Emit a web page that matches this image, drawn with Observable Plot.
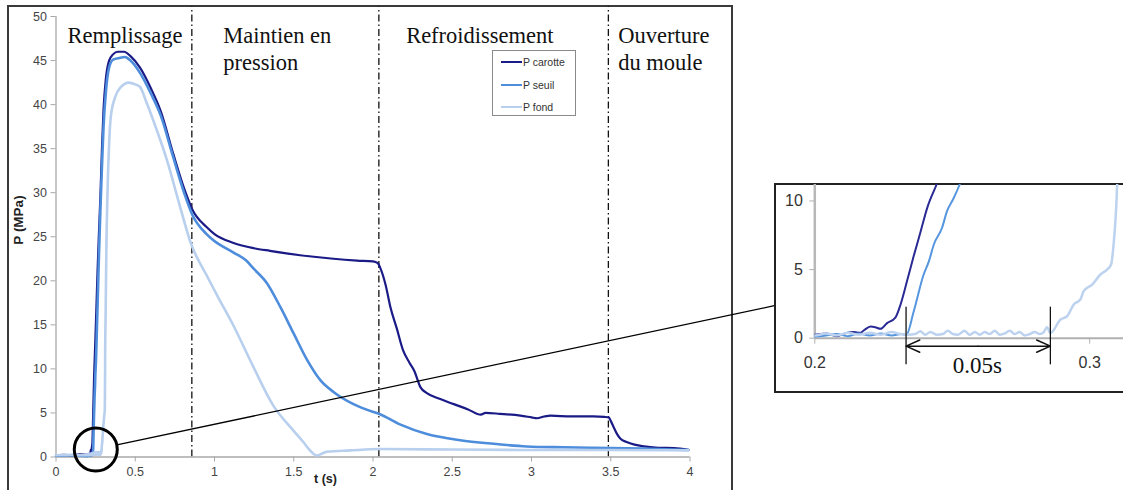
<!DOCTYPE html>
<html>
<head>
<meta charset="utf-8">
<script src="https://cdn.jsdelivr.net/npm/d3@7"></script>
<script src="https://cdn.jsdelivr.net/npm/@observablehq/plot@0.6"></script>
<style>
  html, body { margin: 0; padding: 0; background: #fff; }
  #stage { position: relative; width: 1123px; height: 490px; overflow: hidden; background: #fff; }
  #frame { position: absolute; left: 7px; top: 5px; width: 726px; height: 500px; border: 2px solid #3a3a3a; box-sizing: border-box; }
  #main { position: absolute; left: 0; top: 0; }
  #legend { position: absolute; left: 492px; top: 50px; width: 84px; height: 66px; border: 1px solid #8a8a8a; box-sizing: border-box; background: #fff;
            font-family: "Liberation Sans", Arial, sans-serif; font-size: 10.5px; color: #333; }
  .item { position: absolute; left: 8px; height: 12px; display: flex; align-items: center; }
  .item span.sw { display: inline-block; width: 21px; height: 2px; margin-right: 1px; }
  #insetFrame { position: absolute; left: 774px; top: 183px; width: 360px; height: 210px; border: 2px solid #222; border-right: none; box-sizing: border-box; background: #fff; }
  #inset { position: absolute; left: 775px; top: 184px; }
</style>
</head>
<body>
<div id="stage">
  <div id="frame"></div>
  <div id="main"></div>
  <div id="legend"></div>
  <div id="insetFrame"></div>
  <div id="inset"></div>
</div>
<script>
// ---- data: [t (s), P (MPa)] ----
const seriesNames = ["P carotte", "P seuil", "P fond"];
const seriesColors = ["#1b1b87", "#4d8ddb", "#b8cfee"];

const carotte = [
  [0,0.2],[0.05,0.25],[0.1,0.2],[0.15,0.3],[0.2,0.25],[0.204,0.35],[0.208,0.15],[0.211,0.35],[0.2142,0.45],
  [0.2166,0.4],[0.218,0.6],[0.2203,0.85],[0.222,0.8],[0.2239,0.68],[0.2263,1.1],[0.2293,1.5],[0.2312,2.46],
  [0.2336,4.2],[0.236,6.0],[0.2384,7.7],[0.2409,9.5],[0.2443,11.2],[0.247,12.6],[0.255,17],[0.262,21],
  [0.27,25],[0.28,29.5],[0.29,35],[0.3,39.5],[0.315,43],[0.335,45],[0.36,45.7],[0.39,46.0],[0.43,46.0],
  [0.47,45.5],[0.53,44.2],[0.6,41.8],[0.66,39.3],[0.74,34.4],[0.81,30.4],[0.86,28.1],[0.95,26.1],[1.0,25.3],
  [1.12,24.3],[1.25,23.7],[1.35,23.4],[1.54,22.9],[1.75,22.5],[1.9,22.3],[2.0,22.2],[2.03,22.0],[2.045,21.5],
  [2.08,19.5],[2.11,17.0],[2.15,14.6],[2.19,12.1],[2.23,10.7],[2.26,9.8],[2.3,7.9],[2.34,7.25],[2.42,6.6],
  [2.51,6.0],[2.6,5.4],[2.68,4.8],[2.71,5.0],[2.8,4.9],[2.93,4.7],[3.0,4.5],[3.035,4.4],[3.08,4.6],[3.12,4.7],
  [3.25,4.6],[3.39,4.6],[3.46,4.55],[3.487,4.5],[3.5,4.1],[3.518,3.4],[3.54,2.6],[3.56,2.1],[3.6,1.7],
  [3.65,1.4],[3.71,1.2],[3.8,1.05],[3.9,1.0],[3.99,0.8]
];

const seuil = [
  [0,0.15],[0.1,0.2],[0.2,0.1],[0.204,0.2],[0.208,0.3],[0.212,0.15],[0.216,0.35],[0.22,0.2],[0.224,0.35],
  [0.228,0.2],[0.2315,0.3],[0.2333,0.25],[0.236,1.97],[0.2396,4.64],[0.2415,5.6],[0.2433,6.83],[0.2463,8.05],
  [0.2481,9.26],[0.2505,10.2],[0.2527,11.2],[0.258,14.5],[0.265,19],[0.272,23.5],[0.28,28],[0.29,33],
  [0.3,37.5],[0.315,41.5],[0.335,44.2],[0.36,45.1],[0.4,45.3],[0.435,45.4],[0.47,45.0],[0.53,43.6],
  [0.6,41.2],[0.66,38.8],[0.74,34.0],[0.81,29.9],[0.86,27.5],[0.95,25.3],[0.993,24.6],[1.12,23.2],
  [1.2,22.3],[1.246,21.4],[1.332,19.7],[1.416,17.0],[1.5,14.0],[1.585,11.0],[1.669,8.7],[1.753,7.36],
  [1.877,6.0],[2.003,5.1],[2.037,4.9],[2.17,3.7],[2.34,2.6],[2.55,1.9],[2.76,1.5],[2.97,1.2],[3.2,1.1],
  [3.39,1.05],[3.7,0.95],[3.99,0.8]
];

const fond = [
  [0,0.2],[0.1,0.25],[0.15,0.2],[0.2,0.2],[0.204,0.35],[0.208,0.2],[0.212,0.4],[0.216,0.25],[0.22,0.4],
  [0.224,0.25],[0.228,0.45],[0.231,0.3],[0.2336,0.25],[0.2365,0.3],[0.2384,0.5],[0.2402,0.25],[0.242,0.45],
  [0.2445,0.25],[0.2466,0.3],[0.2484,0.55],[0.2502,0.3],[0.2521,0.25],[0.2545,0.55],[0.2563,0.25],
  [0.2582,0.45],[0.26,0.25],[0.2618,0.45],[0.2636,0.3],[0.2655,0.55],[0.2673,0.25],[0.2691,0.35],
  [0.2709,0.55],[0.2727,0.3],[0.2745,0.45],[0.2763,0.2],[0.2782,0.3],[0.28,0.45],[0.2818,0.3],[0.2833,0.45],
  [0.2845,0.8],[0.2857,0.37],[0.2894,1.36],[0.2918,1.6],[0.2942,2.46],[0.2966,2.82],[0.2978,3.43],
  [0.3009,3.91],[0.3039,4.64],[0.3063,5.0],[0.3078,5.37],[0.3087,6.83],[0.3097,9.75],[0.31,11.2],
  [0.313,16],[0.318,24],[0.325,30],[0.335,35.5],[0.345,38.5],[0.372,40.8],[0.41,42],[0.46,42.5],[0.5,42.3],
  [0.53,42.0],[0.57,40.3],[0.614,38.2],[0.7,33.7],[0.783,28.4],[0.85,24.3],[0.951,20.6],[1.03,17.9],
  [1.12,14.9],[1.246,10.2],[1.372,5.8],[1.498,3.0],[1.56,1.7],[1.603,0.74],[1.646,0.17],[1.68,0.4],
  [1.709,0.6],[1.856,0.75],[2.045,0.9],[2.5,0.85],[3.0,0.8],[3.5,0.8],[3.99,0.75]
];

const xTicks = [0, 0.5, 1, 1.5, 2, 2.5, 3, 3.5, 4];
const yTicks = [0, 5, 10, 15, 20, 25, 30, 35, 40, 45, 50];
const phaseBounds = [0.857, 2.037, 3.485];
const phaseLabels = [
  {t: 0.073, p: 49.2, text: "Remplissage"},
  {t: 1.055, p: 49.2, text: "Maintien en\npression"},
  {t: 2.209, p: 49.2, text: "Refroidissement"},
  {t: 3.547, p: 49.2, text: "Ouverture\ndu moule"}
];
// zoom annotation (data units of the main chart)
const zoomCircle = [{t: 0.251, p: 0.85}];
const zoomLink = [{t1: 0.384, p1: 1.37, t2: 4.539, p2: 17.2}];

// inset
const insetXTicks = [0.2, 0.3];
const insetYTicks = [0, 5, 10];
const delayStart = 0.2332, delayEnd = 0.2857, delayLabel = "0.05s";

// ---- build tables ----
const toRows = (arr, name) => arr.map(([t, p]) => ({t, p, name}));
const rows = [toRows(carotte, seriesNames[0]), toRows(seuil, seriesNames[1]), toRows(fond, seriesNames[2])];
const fmt = d => `${d}`;
const sans = "'Liberation Sans', Arial, sans-serif";
const serif = "'Liberation Serif', 'Times New Roman', serif";

const main = Plot.plot({
  width: 1123, height: 490,
  marginLeft: 55.5, marginRight: 433.5, marginTop: 16, marginBottom: 33.5,
  x: {domain: [0, 4]},
  y: {domain: [0, 50]},
  style: {background: "transparent", overflow: "visible", fontFamily: sans},
  marks: [
    Plot.ruleX(phaseBounds, {y1: 0, y2: 51.1, stroke: "#111", strokeWidth: 1.3, strokeDasharray: "7,3,1.5,3"}),
    Plot.ruleY([0], {x1: 0, x2: 4, stroke: "#a8a8a8", strokeWidth: 1.3}),
    Plot.ruleX([0], {y1: 0, y2: 50, stroke: "#a8a8a8", strokeWidth: 1.3}),
    Plot.axisX({ticks: xTicks, tickFormat: fmt, tickSize: 5, tickPadding: 5, label: null, fontSize: 12.5, stroke: "#a8a8a8", fill: "#444"}),
    Plot.axisY({ticks: yTicks, tickFormat: fmt, tickSize: 5, tickPadding: 4, label: null, fontSize: 12.5, stroke: "#a8a8a8", fill: "#444"}),
    Plot.line(rows[0], {x: "t", y: "p", stroke: seriesColors[0], strokeWidth: 2.2, curve: "monotone-x"}),
    Plot.line(rows[1], {x: "t", y: "p", stroke: seriesColors[1], strokeWidth: 2.6, curve: "monotone-x"}),
    Plot.line(rows[2], {x: "t", y: "p", stroke: seriesColors[2], strokeWidth: 2.6, curve: "monotone-x"}),
    Plot.text(phaseLabels, {x: "t", y: "p", text: "text", textAnchor: "start", lineAnchor: "top", lineHeight: 1.2,
      fontFamily: serif, fontSize: 22.5, fill: "#111"}),
    Plot.text(["t (s)"], {x: 1.70, y: -2.55, fontWeight: "bold", fontSize: 12.5, fill: "#222"}),
    Plot.text(["P (MPa)"], {x: -0.235, y: 26.9, rotate: -90, fontWeight: "bold", fontSize: 13.5, fill: "#222"}),
    Plot.link(zoomLink, {x1: "t1", y1: "p1", x2: "t2", y2: "p2", stroke: "#000", strokeWidth: 1.3}),
    Plot.dot(zoomCircle, {x: "t", y: "p", r: 21.5, stroke: "#000", strokeWidth: 3, fill: "none"})
  ]
});
document.getElementById("main").append(main);

// legend
const legend = document.getElementById("legend");
seriesNames.forEach((n, i) => {
  const d = document.createElement("div");
  d.className = "item";
  d.style.top = (5 + i * 22.5) + "px";
  d.innerHTML = `<span class="sw" style="background:${seriesColors[i]}"></span>${n}`;
  legend.append(d);
});

// inset zoom plot
const inset = Plot.plot({
  width: 348, height: 208,
  marginLeft: 39.3, marginRight: 0, marginTop: 0, marginBottom: 54.3,
  x: {domain: [0.2, 0.3123]},
  y: {domain: [0, 11.2]},
  style: {background: "transparent", overflow: "visible", fontFamily: sans},
  marks: [
    Plot.ruleY([0], {x1: 0.2, x2: 0.3123, stroke: "#b0b0b0", strokeWidth: 2}),
    Plot.ruleX([0.2], {y1: 0, y2: 11.2, stroke: "#b8b8b8", strokeWidth: 2.5}),
    Plot.axisX({ticks: insetXTicks, tickFormat: fmt, tickSize: 6, tickPadding: 12, label: null, fontSize: 16, stroke: "#b0b0b0", fill: "#333"}),
    Plot.axisY({ticks: insetYTicks, tickFormat: fmt, tickSize: 5, tickPadding: 7, label: null, fontSize: 16, stroke: "#b0b0b0", fill: "#333"}),
    Plot.line(rows[0], {x: "t", y: "p", stroke: "#2a2a95", strokeWidth: 2, clip: true, curve: "monotone-x"}),
    Plot.line(rows[1], {x: "t", y: "p", stroke: "#5696df", strokeWidth: 2, clip: true, curve: "monotone-x"}),
    Plot.line(rows[2], {x: "t", y: "p", stroke: "#bcd2ef", strokeWidth: 2.5, clip: true, curve: "monotone-x"}),
    Plot.ruleX([delayStart, delayEnd], {y1: -1.94, y2: 2.26, stroke: "#111", strokeWidth: 1.3}),
    Plot.arrow([{a: (delayStart + delayEnd) / 2, b: delayStart}, {a: (delayStart + delayEnd) / 2, b: delayEnd}],
      {x1: "a", x2: "b", y1: -0.58, y2: -0.58, stroke: "#111", strokeWidth: 1.5, headLength: 15, headAngle: 48}),
    Plot.text([delayLabel], {x: 0.2591, y: -2.0, fontFamily: serif, fontSize: 23, fill: "#111", lineAnchor: "middle"})
  ]
});
document.getElementById("inset").append(inset);
</script>
</body>
</html>
